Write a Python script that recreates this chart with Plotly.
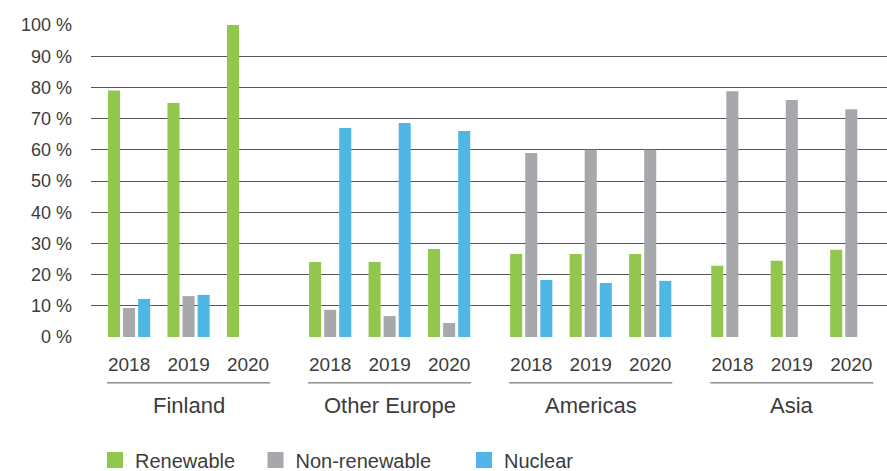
import plotly.graph_objects as go

regions = ["Finland", "Other Europe", "Americas", "Asia"]
years = ["2018", "2019", "2020"]
series_names = ["Renewable", "Non-renewable", "Nuclear"]
renewable = [79, 75, 100, 24, 24, 28.2, 26.6, 26.6, 26.6, 22.8, 24.4, 28]
non_renewable = [9.3, 13.1, 0, 8.7, 6.7, 4.5, 59, 60, 60, 78.8, 76, 73]
nuclear = [12.2, 13.5, 0, 67, 68.6, 66, 18.3, 17.3, 18, 0, 0, 0]
colors = ["#92c74e", "#a7a8ab", "#4fb7e6"]

GROUP_STEP = 3.38
xs, xt = [], []
for g, _ in enumerate(regions):
    for j, y in enumerate(years):
        xs.append(g * GROUP_STEP + j)
        xt.append(y)

FONT = "Liberation Sans"
TXT = "#3c3c3c"

legend_ids = ["legend", "legend2", "legend3"]
legend_x = [95 / 887, 255.5 / 887, 464 / 887]

fig = go.Figure()
for name, vals, c, lid in zip(series_names, [renewable, non_renewable, nuclear], colors, legend_ids):
    fig.add_trace(go.Bar(x=xs, y=vals, name=name, legendgroup=name, showlegend=False,
                         marker=dict(color=c, line=dict(width=0))))
    # legend-only entry with a larger square swatch
    fig.add_trace(go.Scatter(x=[None], y=[None], mode="markers", name=name, legendgroup=name,
                             legend=lid, showlegend=True,
                             marker=dict(symbol="square", size=16, color=c, line=dict(width=0))))

for g, r in enumerate(regions):
    c = g * GROUP_STEP + 1
    fig.add_annotation(x=c, y=-0.218, xref="x", yref="paper", text=r, showarrow=False,
                       font=dict(family=FONT, size=22, color=TXT), yanchor="middle")
    fig.add_shape(type="line", xref="x", yref="paper", x0=c - 1.37, x1=c + 1.37,
                  y0=-0.147, y1=-0.147, line=dict(color="#555555", width=1))

leg_common = dict(orientation="h", xref="container", yref="container", y=1 - 460 / 471,
                  xanchor="left", yanchor="middle", itemwidth=30, itemsizing="trace",
                  font=dict(family=FONT, size=20, color=TXT), bgcolor="rgba(0,0,0,0)")

fig.update_layout(
    width=887, height=471,
    margin=dict(l=91, r=0, t=25, b=134, autoexpand=False),
    paper_bgcolor="white", plot_bgcolor="white",
    barmode="group", bargap=0.24, bargroupgap=0.2,
    font=dict(family=FONT, size=18, color=TXT),
    showlegend=True,
    legend=dict(x=legend_x[0], **leg_common),
    legend2=dict(x=legend_x[1], **leg_common),
    legend3=dict(x=legend_x[2], **leg_common),
    xaxis=dict(range=[-0.64, 12.74], tickmode="array", tickvals=xs, ticktext=xt,
               showgrid=False, zeroline=False, showline=False, ticks="",
               ticklabelstandoff=14, tickfont=dict(size=19, color=TXT)),
    yaxis=dict(range=[0, 100], dtick=10, ticksuffix=" %", showgrid=True,
               gridcolor="#555555", gridwidth=1, zeroline=False, showline=False,
               ticks="", ticklabelstandoff=18, tickfont=dict(size=18, color=TXT)),
)

fig.write_html("out.html")
